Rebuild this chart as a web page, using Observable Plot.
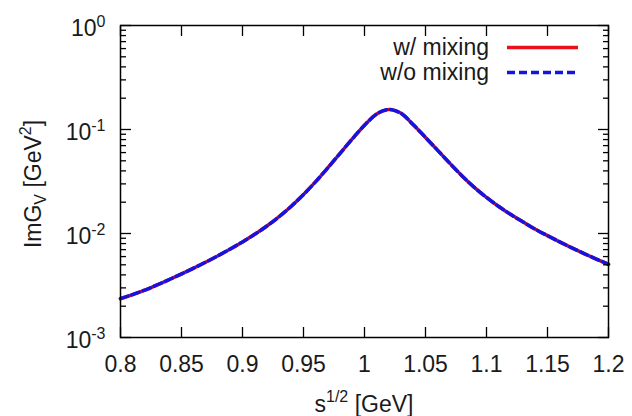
<!DOCTYPE html>
<html><head><meta charset="utf-8">
<script src="https://cdn.jsdelivr.net/npm/d3@7"></script>
<script src="https://cdn.jsdelivr.net/npm/@observablehq/plot@0.6"></script>
<style>
html,body{margin:0;padding:0;background:#fff;}
#chart{width:632px;height:416px;}
</style>
</head><body><div id="chart"></div>
<script>
// ---- data ----
const energy = [0.80,0.82,0.84,0.86,0.88,0.89,0.90,0.91,0.92,0.93,0.94,0.95,0.96,0.97,0.98,0.99,1.00,1.01,1.015,1.02,1.025,1.03,1.04,1.05,1.06,1.07,1.08,1.09,1.10,1.11,1.12,1.13,1.14,1.15,1.16,1.17,1.18,1.19,1.20];
const withMixing = [0.00236,0.00286,0.00361,0.00465,0.00612,0.00710,0.00830,0.00982,0.0118,0.0145,0.0183,0.0237,0.0315,0.0429,0.0590,0.0811,0.110,0.141,0.151,0.156,0.152,0.143,0.111,0.0839,0.0630,0.0472,0.0358,0.0278,0.0222,0.0182,0.0152,0.0129,0.0110,0.00953,0.00830,0.00728,0.00641,0.00568,0.00505];
const withoutMixing = [0.00236,0.00286,0.00361,0.00465,0.00612,0.00710,0.00830,0.00982,0.0118,0.0145,0.0183,0.0237,0.0315,0.0429,0.0590,0.0811,0.110,0.141,0.151,0.156,0.152,0.143,0.111,0.0839,0.0630,0.0472,0.0358,0.0278,0.0222,0.0182,0.0152,0.0129,0.0110,0.00953,0.00830,0.00728,0.00641,0.00568,0.00505];
const seriesNames = ["w/ mixing", "w/o mixing"];
const seriesColors = ["#e8101a", "#1414e0"];
const xTicks = [0.8, 0.85, 0.9, 0.95, 1, 1.05, 1.1, 1.15, 1.2];
const yTicks = [0.001, 0.01, 0.1, 1];
const yTickExponents = ["-3", "-2", "-1", "0"];
const yMinorTicks = [2,3,4,5,6,7,8,9].flatMap(m => [m*0.001, m*0.01, m*0.1]);
const xLabelBase = "s", xLabelSup = "1/2", xLabelRest = " [GeV]";
const yLabelBase = "ImG", yLabelSub = "V", yLabelMid = " [GeV", yLabelSup = "2", yLabelEnd = "]";

// ---- chart ----
const rows = energy.map((x, i) => ({x, on: withMixing[i], off: withoutMixing[i]}));
const font = "'Liberation Sans', Arial, Helvetica, sans-serif";
const fs = "23px", fsSmall = "16px", ink = "#1a1a1a";
const expOf = new Map(yTicks.map((t, i) => [t, yTickExponents[i]]));

const plot = Plot.plot({
  width: 632, height: 416,
  marginLeft: 120, marginRight: 24, marginTop: 25, marginBottom: 79,
  style: {fontFamily: font, fontSize: fs, color: ink, background: "#fff"},
  x: {domain: [0.8, 1.2]},
  y: {type: "log", domain: [0.001, 1]},
  marks: [
    Plot.line(rows, {x: "x", y: "on", stroke: seriesColors[0], strokeWidth: 3.5, curve: "monotone-x"}),
    Plot.line(rows, {x: "x", y: "off", stroke: seriesColors[1], strokeWidth: 3.5, strokeDasharray: "8,4", curve: "monotone-x"}),
    // ticks (inward, mirrored)
    Plot.axisX(xTicks, {anchor: "bottom", tickSize: -10, fill: "none", stroke: "#000", strokeWidth: 1.3}),
    Plot.axisX(xTicks, {anchor: "top", tickSize: -10, fill: "none", stroke: "#000", strokeWidth: 1.3}),
    Plot.axisY(yTicks, {anchor: "left", tickSize: -11, fill: "none", stroke: "#000", strokeWidth: 1.3}),
    Plot.axisY(yTicks, {anchor: "right", tickSize: -11, fill: "none", stroke: "#000", strokeWidth: 1.3}),
    Plot.axisY(yMinorTicks, {anchor: "left", tickSize: -6, fill: "none", stroke: "#000", strokeWidth: 1.3}),
    Plot.axisY(yMinorTicks, {anchor: "right", tickSize: -6, fill: "none", stroke: "#000", strokeWidth: 1.3}),
    // tick labels
    Plot.axisX(xTicks, {anchor: "bottom", tickSize: 0, tickPadding: 18, tickFormat: d => String(d), label: null}),
    Plot.axisY(yTicks, {anchor: "left", tickSize: 0, tickPadding: 15, tickFormat: d => "10^" + expOf.get(d), label: null, dy: 3}),
    Plot.frame({stroke: "#000", strokeWidth: 1.5})
  ]
});

const svg = d3.select(plot);
// superscripts on y tick labels
svg.selectAll('[aria-label="y-axis tick label"] text').each(function() {
  const t = d3.select(this);
  const parts = t.text().split("^");
  t.text(parts[0]);
  t.append("tspan").attr("dy", "-9").attr("font-size", fsSmall).text(parts[1]);
});

const W = 632, H = 416, mL = 120, mR = 24, mT = 25, mB = 79;
const cx = (mL + (W - mR)) / 2, cy = (mT + (H - mB)) / 2;

// x label
const xl = svg.append("text").attr("x", cx).attr("y", 412).attr("text-anchor", "middle")
  .attr("font-family", font).attr("font-size", fs).attr("fill", ink);
xl.append("tspan").text(xLabelBase);
xl.append("tspan").attr("dy", "-10").attr("font-size", fsSmall).text(xLabelSup);
xl.append("tspan").attr("dy", "10").text(xLabelRest);

// y label
const yl = svg.append("text").attr("transform", `translate(41,${cy + 3}) rotate(-90)`).attr("text-anchor", "middle")
  .attr("font-family", font).attr("font-size", fs).attr("fill", ink);
yl.append("tspan").text(yLabelBase);
yl.append("tspan").attr("dy", "5").attr("font-size", fsSmall).text(yLabelSub);
yl.append("tspan").attr("dy", "-5").text(yLabelMid);
yl.append("tspan").attr("dy", "-10").attr("font-size", fsSmall).text(yLabelSup);
yl.append("tspan").attr("dy", "10").text(yLabelEnd);

// legend
const lg = svg.append("g").attr("font-family", font).attr("font-size", fs);
seriesNames.forEach((name, i) => {
  const y = 47.5 + i * 25;
  lg.append("text").attr("x", 489).attr("y", y + 7.5).attr("text-anchor", "end").attr("fill", ink).text(name);
  lg.append("line").attr("x1", 507).attr("x2", 578).attr("y1", y).attr("y2", y)
    .attr("stroke", seriesColors[i]).attr("stroke-width", 3.5)
    .attr("stroke-dasharray", i === 1 ? "8,4" : null);
});

document.getElementById("chart").appendChild(plot);
</script>
</body></html>
